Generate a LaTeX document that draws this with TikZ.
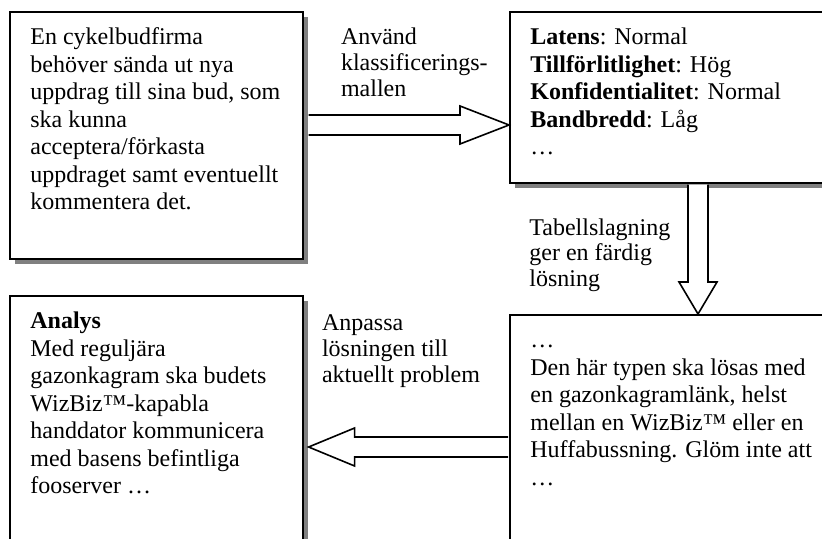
\documentclass[tikz,border=0pt]{standalone}
\usepackage{fontspec}
\setmainfont{Liberation Serif}
\usetikzlibrary{calc, positioning, shadows}
\tikzset{
    boxnode/.style = {draw, rectangle, fill=white, line width=0.8pt, anchor=north west, inner sep=0em,
      drop shadow={shadow xshift=2.5pt, shadow yshift=-2.5pt, fill=black!50, opacity=1}},
    textnode/.style = {draw=none, fill=none, rectangle, inner sep=0em, align=left,
      font=\fontsize{12}{13.75}\selectfont},
    labelnode/.style = {draw=none, fill=none, rectangle, inner sep=0em, align=left,
      font=\fontsize{12}{12.9}\selectfont},
    hollowarrow/.style = {draw, fill=white, line width=0.8pt, line join=miter}
}

\begin{document}
\begin{tikzpicture}[x=0.5pt, y=0.5pt]
\useasboundingbox (0,0) rectangle (822,-539);
\clip (0,0) rectangle (822,-539);

% the four boxes
\node [boxnode, name=task, minimum width=146.5pt, minimum height=123.5pt] at (9,-11) {};
\node [boxnode, name=class, minimum width=195.5pt, minimum height=85.5pt] at (509,-11) {};
\node [boxnode, name=analys, minimum width=146.5pt, minimum height=200pt] at (9,-295) {};
\node [boxnode, name=solution, minimum width=195.5pt, minimum height=200pt] at (509,-314) {};

\node [textnode, name=tasktext, below right=7pt and 10.5pt of task.north west] {\strut En cykelbudfirma\\
behöver sända ut nya\\ uppdrag till sina bud, som\\ ska kunna\\ acceptera/förkasta\\
uppdraget samt eventuellt\\ kommentera det.};

\node [textnode, name=classtext, below right=7pt and 10.5pt of class.north west] {\strut\textbf{Latens}: Normal\\
\textbf{Tillförlitlighet}: Hög\\ \textbf{Konfidentialitet}: Normal\\ \textbf{Bandbredd}: Låg\\ …};

\node [textnode, name=analystext, below right=7pt and 10.5pt of analys.north west] {\strut\textbf{Analys}\\
Med reguljära\\ gazonkagram ska budets\\ WizBiz™-kapabla\\ handdator kommunicera\\
med basens befintliga\\ fooserver …};

\node [textnode, name=solutiontext, below right=7pt and 10.5pt of solution.north west] {\strut …\\
Den här typen ska lösas med\\ en gazonkagramlänk, helst\\ mellan en WizBiz™ eller en\\
Huffabussning. Glöm inte att\\ …};

% the hollow arrows
\coordinate (s1) at ($(task.east |- 0,-125)+(5,0)$);
\coordinate (t1) at (class.west |- 0,-125);
\draw [hollowarrow] ($(s1)+(0,10)$) -- ($(t1)+(-49,10)$) -- ($(t1)+(-49,19)$) -- (t1)
  -- ($(t1)+(-49,-19)$) -- ($(t1)+(-49,-10)$) -- ($(s1)+(0,-10)$);

\coordinate (s2) at ($(class.south -| 698,0)+(0,-1)$);
\coordinate (t2) at (solution.north -| 698,0);
\draw [hollowarrow] ($(s2)+(-10,0)$) -- ($(t2)+(-10,32)$) -- ($(t2)+(-19,32)$) -- (t2)
  -- ($(t2)+(19,32)$) -- ($(t2)+(10,32)$) -- ($(s2)+(10,0)$);

\coordinate (s3) at ($(solution.west |- 0,-447)+(-1,0)$);
\coordinate (t3) at ($(analys.east |- 0,-447)+(5,0)$);
\draw [hollowarrow] ($(s3)+(0,10)$) -- ($(t3)+(46,10)$) -- ($(t3)+(46,19)$) -- (t3)
  -- ($(t3)+(46,-19)$) -- ($(t3)+(46,-10)$) -- ($(s3)+(0,-10)$);

% arrow labels
\node [labelnode, name=use, below right=7.5pt and 18.5pt of task.north east] {\strut Använd\\
klassificerings-\\ mallen};
\node [labelnode, name=lookup, below right=16.5pt and 10pt of class.south west] {\strut Tabellslagning\\
ger en färdig\\ lösning};
\node [labelnode, name=adapt, below right=8.5pt and 9pt of analys.north east] {\strut Anpassa\\
lösningen till\\ aktuellt problem};

\end{tikzpicture}
\end{document}
